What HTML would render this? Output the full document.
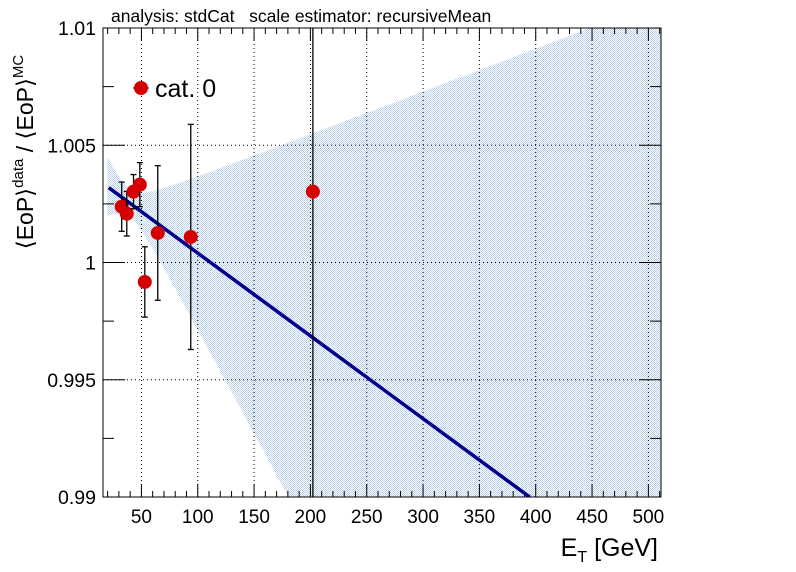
<!DOCTYPE html>
<html><head><meta charset="utf-8"><style>
html,body{margin:0;padding:0;background:#fff;width:796px;height:572px;overflow:hidden;}
svg{display:block;font-family:"Liberation Sans",sans-serif;}
</style></head><body>
<svg id="c" width="796" height="572" viewBox="0 0 796 572">
<defs>
<pattern id="hatch" width="2" height="2" patternUnits="userSpaceOnUse">
<rect width="2" height="2" fill="#fff"/>
<rect width="1" height="1" fill="#b8d0e8"/>
<rect x="1" y="1" width="1" height="1" fill="#b8d0e8"/>
</pattern>
<clipPath id="clip"><rect x="103" y="28" width="558" height="469"/></clipPath>
</defs>
<g id="band" clip-path="url(#clip)"></g>
<g id="grid"></g>
<g id="axes"></g>
<g id="fit" clip-path="url(#clip)"></g>
<g id="pts"></g>
<text x="111" y="22" font-size="17.5" style="white-space:pre" xml:space="preserve">analysis: stdCat   scale estimator: recursiveMean</text>
<g>
<line x1="133" y1="88" x2="149" y2="88" stroke="#000" stroke-width="1"/>
<circle cx="141" cy="88" r="7" fill="#d40000"/>
<text x="155" y="97" font-size="25">cat. 0</text>
</g>
<text transform="translate(33,152) rotate(-90)" text-anchor="middle" font-size="23">⟨EoP⟩<tspan dy="-10" font-size="15">data</tspan><tspan dy="10"> / ⟨EoP⟩</tspan><tspan dy="-10" font-size="15">MC</tspan></text>
<text x="658" y="556" text-anchor="end" font-size="25">E<tspan dy="6" font-size="16">T</tspan><tspan dy="-6"> [GeV]</tspan></text>
</svg>
<script>
const xs=[32.5,37,43,48.6,53,64.5,93.8,202.2];
const ys=[1.00238,1.00208,1.00302,1.00332,0.99917,1.00126,1.00109,1.00302];
const errs=[0.00105,0.00095,0.00073,0.00094,0.0015,0.00287,0.0048,0.02];
const fitParams=[1.00319,-3.53e-5,21];
const bandParams=[0.0006,5.36e-5,40];
const xTicks=[50,100,150,200,250,300,350,400,450,500];
const yTicks=[0.99,0.995,1,1.005,1.01];
const yTickLabels=["0.99","0.995","1","1.005","1.01"];
const X0=103,X1=661,Y0=28,Y1=497,XMIN=15.9,XMAX=511.2,YMIN=0.99,YMAX=1.01;
const sx=v=>X0+(v-XMIN)/(XMAX-XMIN)*(X1-X0);
const sy=v=>Y1-(v-YMIN)/(YMAX-YMIN)*(Y1-Y0);
const NS="http://www.w3.org/2000/svg";
function mk(t,p,a){const e=document.createElementNS(NS,t);for(const k in a)e.setAttribute(k,a[k]);p.appendChild(e);return e;}
const fitY=x=>fitParams[0]+fitParams[1]*(x-fitParams[2]);
const bw=x=>Math.sqrt(bandParams[0]**2+(bandParams[1]*(x-bandParams[2]))**2);
let up=[],lo=[];
for(let x=19.5;x<=XMAX+1;x+=2){up.push(sx(x)+","+sy(fitY(x)+bw(x)));lo.push(sx(x)+","+sy(fitY(x)-bw(x)));}
const band=mk("polygon",document.getElementById("band"),{points:up.concat(lo.reverse()).join(" "),fill:"url(#hatch)"});


const g=document.getElementById("grid");
xTicks.forEach(t=>{const l=mk("line",g,{x1:sx(t),x2:sx(t),y1:Y0,y2:Y1,stroke:"#000","stroke-width":1,"stroke-dasharray":"1,3"});

});
yTicks.forEach(t=>{const l=mk("line",g,{x1:X0,x2:X1,y1:sy(t),y2:sy(t),stroke:"#000","stroke-width":1,"stroke-dasharray":"1,3"});

});
const a=document.getElementById("axes");
const fr=mk("rect",a,{x:X0,y:Y0,width:X1-X0,height:Y1-Y0,fill:"none",stroke:"#000","stroke-width":1});


for(let v=20;v<=510;v+=10){const maj=v%50===0;const h=maj?13:6;
mk("line",a,{x1:sx(v),x2:sx(v),y1:Y1,y2:Y1-h,stroke:"#000"});
mk("line",a,{x1:sx(v),x2:sx(v),y1:Y0,y2:Y0+h,stroke:"#000"});}
xTicks.forEach(t=>{const e=mk("text",a,{x:sx(t),y:523,"text-anchor":"middle","font-size":19});e.textContent=t;

});
for(let v=0.99;v<=1.0101;v+=0.0025){const maj=Math.abs(Math.round(v/0.005)*0.005-v)<1e-7;const w=maj?22:11;
mk("line",a,{x1:X0,x2:X0+w,y1:sy(v),y2:sy(v),stroke:"#000"});
mk("line",a,{x1:X1,x2:X1-w,y1:sy(v),y2:sy(v),stroke:"#000"});}
yTicks.forEach((t,i)=>{const e=mk("text",a,{x:96,y:sy(t)+7,"text-anchor":"end","font-size":19.5});e.textContent=yTickLabels[i];

});
const xe=Math.min(XMAX,fitParams[2]+(YMIN-fitParams[0])/fitParams[1]);
const fl=mk("line",document.getElementById("fit"),{x1:sx(21),y1:sy(fitY(21)),x2:sx(xe),y2:sy(fitY(xe)),stroke:"#00008b","stroke-width":3.5});


const p=document.getElementById("pts");
xs.forEach((x,i)=>{const cx=sx(x),t=Math.max(Y0,sy(ys[i]+errs[i])),b=Math.min(Y1,sy(ys[i]-errs[i]));
const grp=mk("g",p,{});


mk("line",grp,{x1:cx,x2:cx,y1:t,y2:b,stroke:"#000","stroke-width":1.3});
if(t>Y0)mk("line",grp,{x1:cx-3,x2:cx+3,y1:t,y2:t,stroke:"#000","stroke-width":1.3});
if(b<Y1)mk("line",grp,{x1:cx-3,x2:cx+3,y1:b,y2:b,stroke:"#000","stroke-width":1.3});
mk("circle",grp,{cx:cx,cy:sy(ys[i]),r:7,fill:"#d40000"});});
</script>
</body></html>
